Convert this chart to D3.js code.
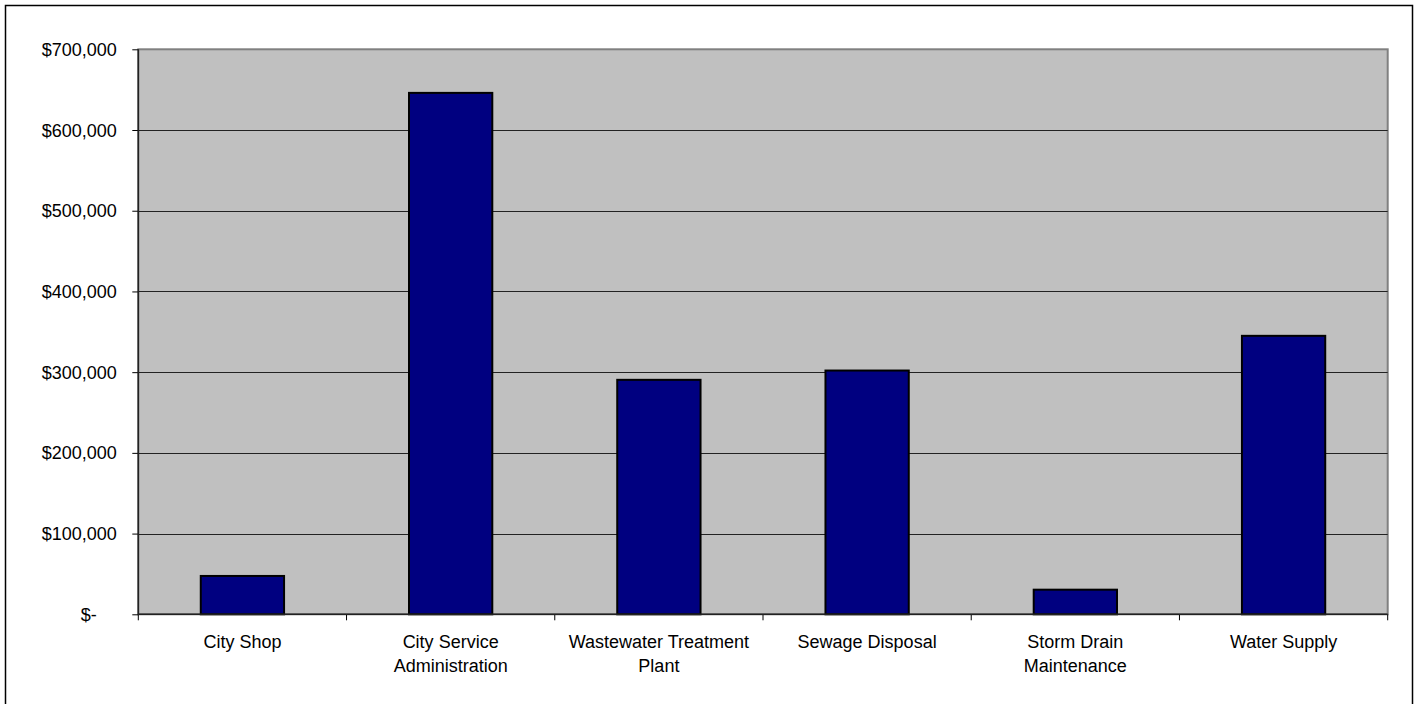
<!DOCTYPE html>
<html>
<head>
<meta charset="utf-8">
<script src="https://cdn.jsdelivr.net/npm/d3@7"></script>
<style>
  html, body { margin: 0; padding: 0; background: #fff; }
  svg { display: block; }
  text { font-family: "Liberation Sans", Arial, sans-serif; font-size: 18px; fill: #000; }
</style>
</head>
<body>
<svg id="chart" width="1420" height="704"></svg>
<script>
// Departments and their amounts
const categories = [
  "City Shop",
  "City Service Administration",
  "Wastewater Treatment Plant",
  "Sewage Disposal",
  "Storm Drain Maintenance",
  "Water Supply"
];
const amounts = [47500, 646000, 290500, 302000, 30500, 345000];
const yTicks = [0, 100000, 200000, 300000, 400000, 500000, 600000, 700000];

const svg = d3.select("#chart");
const W = 1420, H = 704;
const plot = { left: 138.3, right: 1387.7, top: 49.3, bottom: 614.3 };

// outer chart frame (runs past the bottom edge)
svg.append("rect")
  .attr("x", 5.5).attr("y", 5.5)
  .attr("width", 1407).attr("height", 710)
  .attr("fill", "#fff").attr("stroke", "#000").attr("stroke-width", 1.5);

const x = d3.scaleBand().domain(categories).range([plot.left, plot.right]).padding(0);
const y = d3.scaleLinear().domain([0, 700000]).range([plot.bottom, plot.top]);

// plot background
svg.append("rect")
  .attr("x", plot.left).attr("y", plot.top)
  .attr("width", plot.right - plot.left).attr("height", plot.bottom - plot.top)
  .attr("fill", "#c0c0c0").attr("stroke", "#808080").attr("stroke-width", 2);

// horizontal gridlines
svg.append("g").selectAll("line")
  .data(yTicks.filter(v => v > 0 && v < 700000))
  .join("line")
  .attr("x1", plot.left).attr("x2", plot.right)
  .attr("y1", d => Math.round(y(d)) + 0.5).attr("y2", d => Math.round(y(d)) + 0.5)
  .attr("stroke", "#222").attr("stroke-width", 1);

// bars: width is 1/2.5 of the category slot
const barW = x.bandwidth() / 2.5;
svg.append("g").selectAll("rect")
  .data(categories.map((c, i) => ({ c, v: amounts[i] })))
  .join("rect")
  .attr("x", d => x(d.c) + (x.bandwidth() - barW) / 2)
  .attr("y", d => y(d.v))
  .attr("width", barW)
  .attr("height", d => y(0) - y(d.v))
  .attr("fill", "#000080")
  .attr("stroke", "#000").attr("stroke-width", 2);

// y axis (accounting style labels)
const fmt = d3.format(",");
const yAxis = d3.axisLeft(y)
  .tickValues(yTicks)
  .tickSize(6)
  .tickPadding(15.6)
  .tickFormat(v => v === 0 ? "$-\u2007\u2007" : "$" + fmt(v));
const gy = svg.append("g").attr("transform", `translate(${plot.left},0)`).call(yAxis);
gy.select(".domain").remove();
gy.selectAll(".tick line").attr("stroke", "#000");
gy.selectAll(".tick text")
  .style("font-family", "'Liberation Sans', Arial, sans-serif")
  .style("font-size", "18px").attr("fill", "#000").attr("dy", "0.34em");
svg.append("line")
  .attr("x1", plot.left).attr("x2", plot.left)
  .attr("y1", plot.top).attr("y2", plot.bottom)
  .attr("stroke", "#222").attr("stroke-width", 1.5);

// x axis: ticks on slot boundaries, labels centred in each slot
const bounds = categories.map(c => x(c)).concat([plot.right]);
svg.append("g").selectAll("line")
  .data(bounds)
  .join("line")
  .attr("x1", d => d).attr("x2", d => d)
  .attr("y1", plot.bottom).attr("y2", plot.bottom + 6)
  .attr("stroke", "#000").attr("stroke-width", 1);
svg.append("line")
  .attr("x1", plot.left).attr("x2", plot.right)
  .attr("y1", plot.bottom).attr("y2", plot.bottom)
  .attr("stroke", "#222").attr("stroke-width", 1.5);

const wrapWidth = 190;
const labels = svg.append("g").selectAll("text")
  .data(categories)
  .join("text")
  .attr("text-anchor", "middle")
  .attr("x", d => x(d) + x.bandwidth() / 2)
  .attr("y", plot.bottom + 34);

labels.each(function (d) {
  const t = d3.select(this);
  const words = d.split(" ");
  let line = [];
  let tspan = t.append("tspan").attr("x", t.attr("x")).attr("dy", 0);
  let lineNo = 0;
  for (const w of words) {
    line.push(w);
    tspan.text(line.join(" "));
    if (tspan.node().getComputedTextLength() > wrapWidth && line.length > 1) {
      line.pop();
      tspan.text(line.join(" "));
      line = [w];
      lineNo++;
      tspan = t.append("tspan").attr("x", t.attr("x")).attr("dy", 24).text(w);
    }
  }
});
</script>
</body>
</html>
